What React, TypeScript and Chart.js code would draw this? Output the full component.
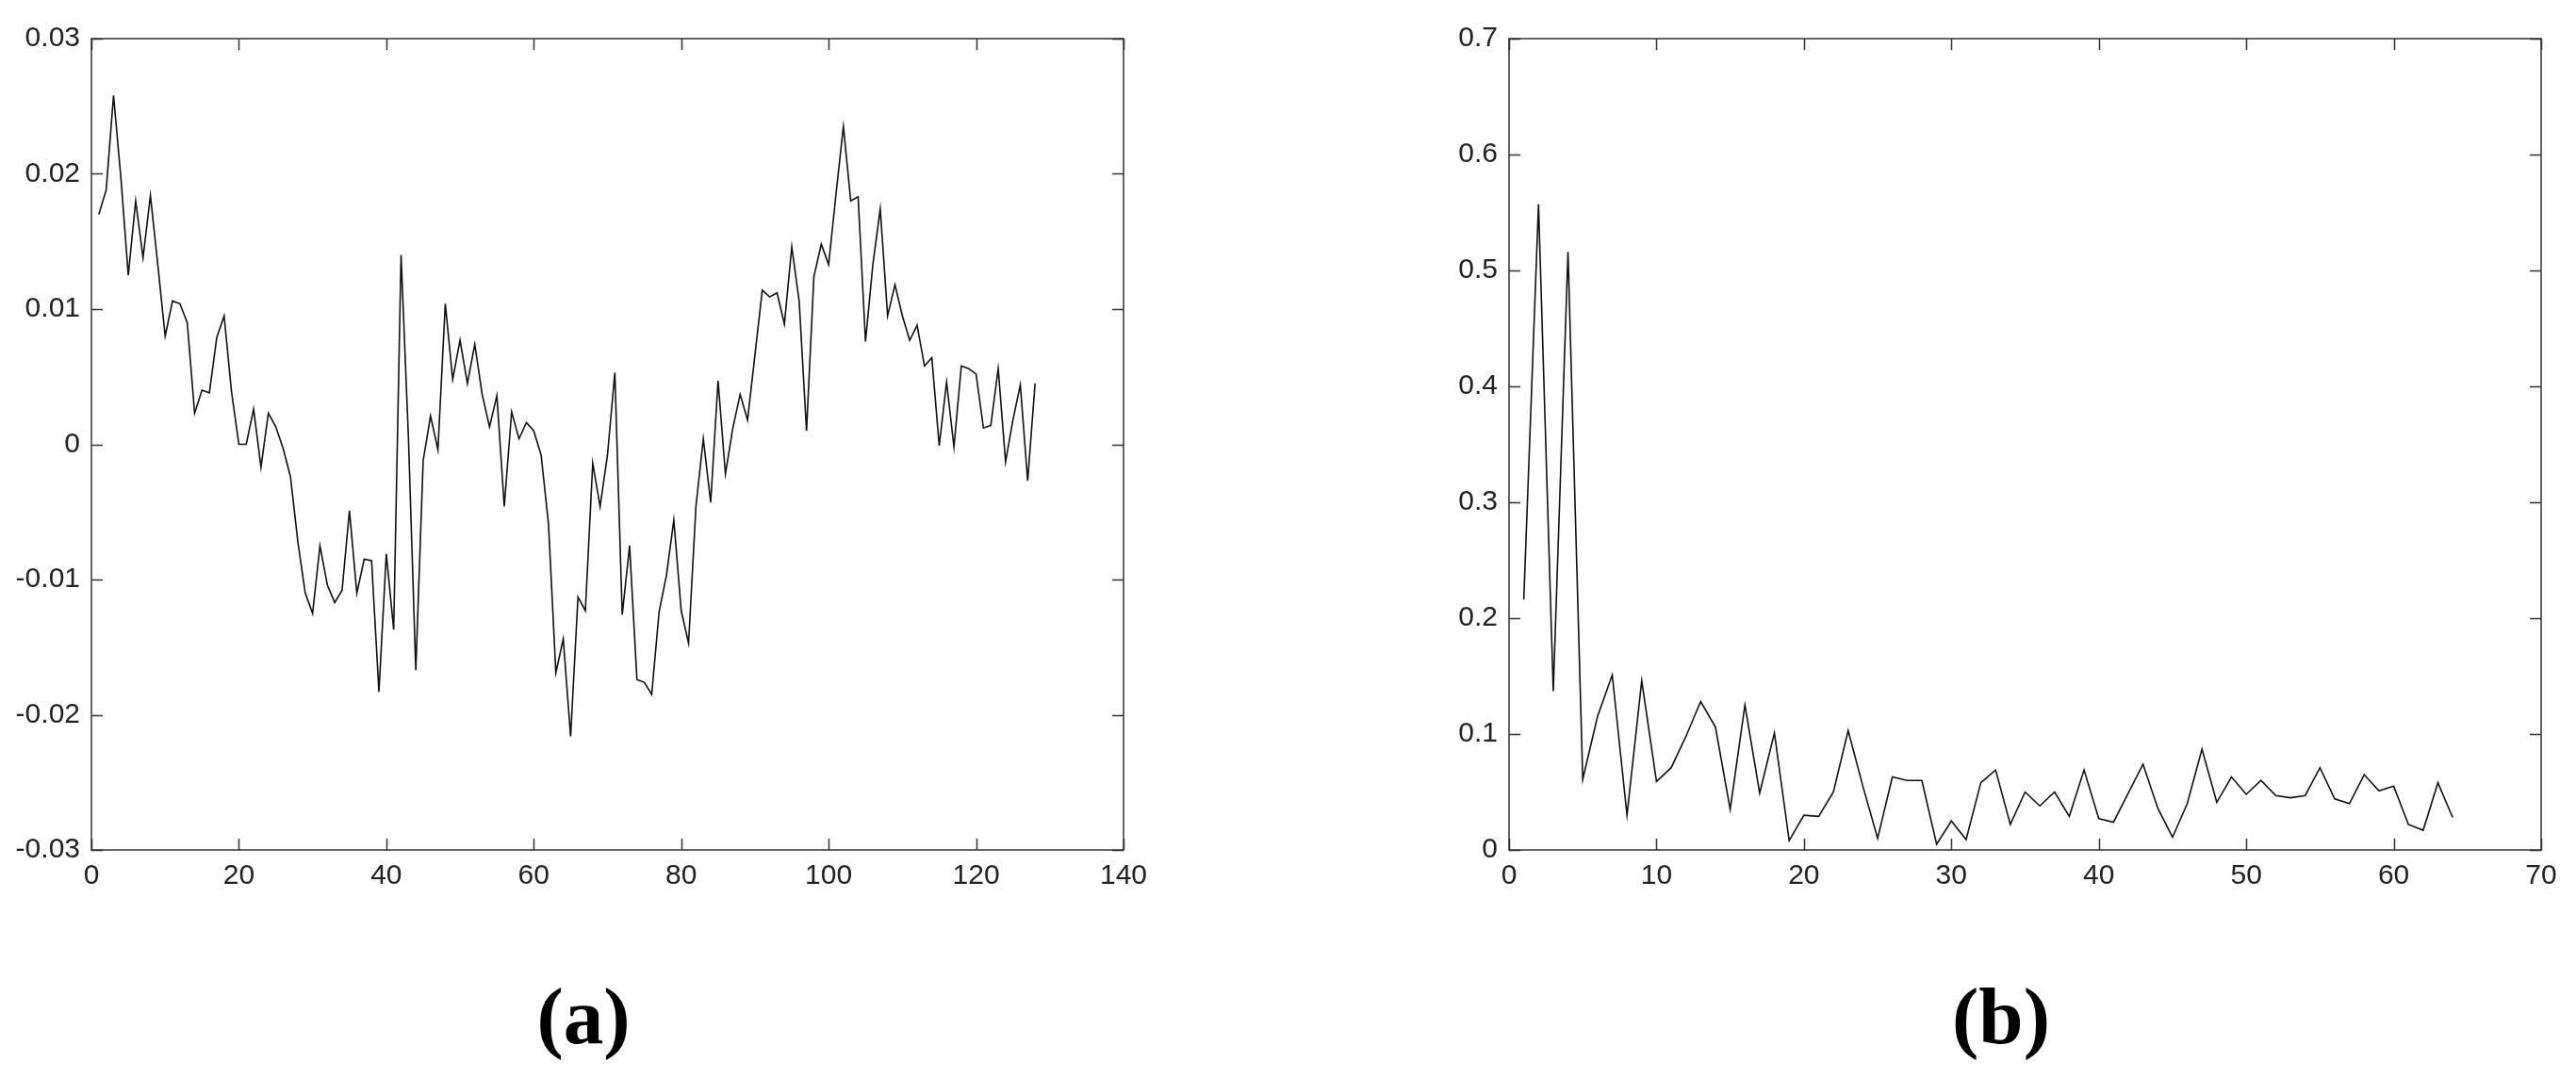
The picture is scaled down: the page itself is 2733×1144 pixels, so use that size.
import React, { useEffect, useRef } from "react";
import { Chart, registerables } from "chart.js";

Chart.register(...registerables);

// ---- Data (a): time-domain signal, 128 samples ----
const signalValues: number[] = [
  0.0170, 0.0188, 0.0258, 0.0197, 0.0125, 0.0180, 0.0138, 0.0184, 0.0133, 0.0080,
  0.0106, 0.0104, 0.0090, 0.0023, 0.0040, 0.0038, 0.0079, 0.0095, 0.0039, 0.0000,
  0.0000, 0.0026, -0.0017, 0.0023, 0.0013, -0.0003, -0.0024, -0.0072, -0.0110, -0.0125,
  -0.0075, -0.0104, -0.0117, -0.0108, -0.0049, -0.0110, -0.0085, -0.0086, -0.0183, -0.0081,
  -0.0137, 0.0140, 0.0005, -0.0167, -0.0012, 0.0021, -0.0004, 0.0104, 0.0048, 0.0077,
  0.0045, 0.0074, 0.0037, 0.0013, 0.0036, -0.0046, 0.0024, 0.0004, 0.0016, 0.0010,
  -0.0008, -0.0059, -0.0169, -0.0144, -0.0216, -0.0113, -0.0123, -0.0014, -0.0046, -0.0008,
  0.0053, -0.0126, -0.0075, -0.0174, -0.0176, -0.0185, -0.0124, -0.0097, -0.0056, -0.0123,
  -0.0147, -0.0046, 0.0004, -0.0043, 0.0047, -0.0022, 0.0012, 0.0037, 0.0018, 0.0066,
  0.0114, 0.0109, 0.0112, 0.0089, 0.0146, 0.0106, 0.0010, 0.0124, 0.0148, 0.0133,
  0.0185, 0.0235, 0.0180, 0.0183, 0.0076, 0.0133, 0.0174, 0.0095, 0.0118, 0.0095,
  0.0077, 0.0088, 0.0058, 0.0064, -0.0001, 0.0046, -0.0002, 0.0058, 0.0056, 0.0052,
  0.0012, 0.0014, 0.0056, -0.0013, 0.0018, 0.0044, -0.0027, 0.0045,
];

// ---- Data (b): spectrum magnitude, 64 bins ----
const spectrumValues: number[] = [
  0.216, 0.557, 0.137, 0.516, 0.061, 0.115, 0.151, 0.030, 0.146, 0.059,
  0.071, 0.098, 0.128, 0.106, 0.035, 0.125, 0.049, 0.101, 0.008, 0.030,
  0.029, 0.050, 0.103, 0.055, 0.010, 0.063, 0.060, 0.060, 0.005, 0.025,
  0.009, 0.058, 0.069, 0.022, 0.050, 0.038, 0.050, 0.029, 0.069, 0.027,
  0.024, 0.049, 0.074, 0.036, 0.011, 0.040, 0.087, 0.041, 0.063, 0.048,
  0.060, 0.047, 0.045, 0.047, 0.071, 0.044, 0.040, 0.065, 0.051, 0.055,
  0.022, 0.017, 0.058, 0.028,
];

// axis ranges / tick steps
const leftXRange = [0, 140];
const leftXStep = 20;
const leftYRange = [-0.03, 0.03];
const leftYStep = 0.01;
const rightXRange = [0, 70];
const rightXStep = 10;
const rightYRange = [0, 0.7];
const rightYStep = 0.1;

const panelLabels = ["(a)", "(b)"];

const TICK_FONT = { family: "'Liberation Sans', Arial, sans-serif", size: 30 };
const TICK_COLOR = "#222";

const framePlugin = {
  id: "matlabFrame",
  afterDatasetsDraw(chart: any) {
    const { ctx, chartArea: a, scales } = chart;
    const L = 12;
    ctx.save();
    ctx.strokeStyle = "#333";
    ctx.lineWidth = 1.5;
    ctx.beginPath();
    scales.x.ticks.forEach((t: any) => {
      const px = Math.round(scales.x.getPixelForValue(t.value)) + 0.5;
      ctx.moveTo(px, a.bottom);
      ctx.lineTo(px, a.bottom - L);
      ctx.moveTo(px, a.top);
      ctx.lineTo(px, a.top + L);
    });
    scales.y.ticks.forEach((t: any) => {
      const py = Math.round(scales.y.getPixelForValue(t.value)) + 0.5;
      ctx.moveTo(a.left, py);
      ctx.lineTo(a.left + L, py);
      ctx.moveTo(a.right, py);
      ctx.lineTo(a.right - L, py);
    });
    ctx.stroke();
    ctx.strokeRect(a.left, a.top, a.right - a.left, a.bottom - a.top);
    ctx.restore();
  },
};

function makeConfig(
  values: number[],
  xr: number[],
  xs: number,
  yr: number[],
  ys: number,
  yDecimals: number,
  yAxisWidth: number,
  padRight: number
): any {
  return {
    type: "line",
    data: {
      datasets: [
        {
          data: values.map((v, i) => ({ x: i + 1, y: v })),
          borderColor: "#111",
          borderWidth: 1.6,
          pointRadius: 0,
          tension: 0,
          fill: false,
        },
      ],
    },
    options: {
      animation: false,
      responsive: false,
      devicePixelRatio: 1,
      layout: { padding: { top: 41, right: padRight, left: 0, bottom: 0 } },
      plugins: { legend: { display: false }, tooltip: { enabled: false } },
      scales: {
        x: {
          type: "linear",
          min: xr[0],
          max: xr[1],
          ticks: {
            stepSize: xs,
            font: TICK_FONT,
            color: TICK_COLOR,
            padding: 10,
            maxRotation: 0,
            callback: (v: number) => String(v),
          },
          grid: { display: false, drawTicks: false },
          border: { display: false },
          afterFit: (s: any) => {
            s.height = 58;
          },
        },
        y: {
          type: "linear",
          min: yr[0],
          max: yr[1],
          ticks: {
            stepSize: ys,
            font: TICK_FONT,
            color: TICK_COLOR,
            padding: 12,
            callback: (v: number) => String(Number(v.toFixed(yDecimals))),
          },
          grid: { display: false, drawTicks: false },
          border: { display: false },
          afterFit: (s: any) => {
            s.width = yAxisWidth;
          },
        },
      },
    },
    plugins: [framePlugin],
  };
}

function ChartCanvas(props: { config: any; left: number; width: number; height: number }) {
  const ref = useRef<HTMLCanvasElement | null>(null);
  useEffect(() => {
    if (!ref.current) return;
    const chart = new Chart(ref.current, props.config);
    return () => chart.destroy();
  }, []);
  return (
    <canvas
      ref={ref}
      width={props.width}
      height={props.height}
      style={{ position: "absolute", left: props.left, top: 0, width: props.width, height: props.height }}
    />
  );
}

export default function App() {
  const leftCfg = makeConfig(signalValues, leftXRange, leftXStep, leftYRange, leftYStep, 2, 97, 108);
  const rightCfg = makeConfig(spectrumValues, rightXRange, rightXStep, rightYRange, rightYStep, 1, 101, 37);
  const labelStyle: React.CSSProperties = {
    position: "absolute",
    top: 1036,
    width: 200,
    textAlign: "center",
    fontFamily: "'Liberation Serif', 'Times New Roman', serif",
    fontWeight: "bold",
    fontSize: 85,
    lineHeight: "85px",
    color: "#000",
  };
  return (
    <div style={{ position: "absolute", left: 0, top: 0, width: 2733, height: 1144, background: "#fff", overflow: "hidden" }}>
      <ChartCanvas config={leftCfg} left={0} width={1300} height={960} />
      <ChartCanvas config={rightCfg} left={1500} width={1233} height={960} />
      <div style={{ ...labelStyle, left: 519 }}>{panelLabels[0]}</div>
      <div style={{ ...labelStyle, left: 2023 }}>{panelLabels[1]}</div>
    </div>
  );
}
